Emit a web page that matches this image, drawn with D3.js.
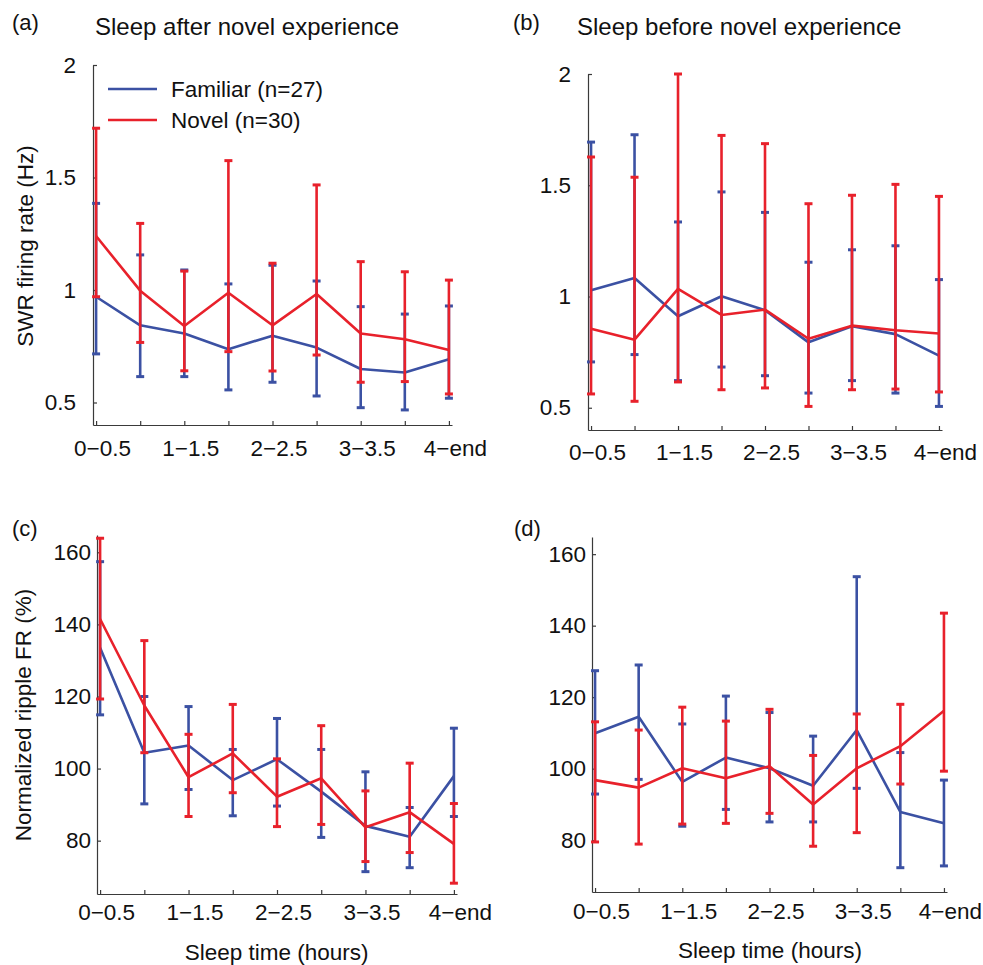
<!DOCTYPE html>
<html>
<head>
<meta charset="utf-8">
<script src="https://cdn.jsdelivr.net/npm/d3@7"></script>
<style>
  html, body { margin: 0; padding: 0; background: #fff; }
  svg { display: block; font-family: "Liberation Sans", Arial, Helvetica, sans-serif; }
</style>
</head>
<body>
<svg id="chart" width="983" height="965"></svg>
<script>
// ---------------- DATA ----------------
const categories = ["0–0.5", "0.5–1", "1–1.5", "1.5–2", "2–2.5", "2.5–3", "3–3.5", "3.5–4", "4–end"];
const xTickLabels = ["0\u22120.5", "", "1\u22121.5", "", "2\u22122.5", "", "3\u22123.5", "", "4\u2212end"];
const seriesNames = ["Familiar (n=27)", "Novel (n=30)"];

const yTicksRate = [0.5, 1, 1.5, 2];
const yTicksNorm = [80, 100, 120, 140, 160];

// (a) Sleep after novel experience: SWR firing rate (Hz)
const aFamMean  = [0.970, 0.843, 0.807, 0.737, 0.797, 0.744, 0.649, 0.633, 0.692];
const aFamUpper = [1.385, 1.156, 1.089, 1.027, 1.110, 1.040, 0.926, 0.893, 0.929];
const aFamLower = [0.716, 0.615, 0.615, 0.556, 0.590, 0.529, 0.477, 0.467, 0.519];
const aNovMean  = [1.240, 0.997, 0.840, 0.988, 0.843, 0.982, 0.807, 0.781, 0.733];
const aNovUpper = [1.719, 1.296, 1.084, 1.575, 1.119, 1.467, 1.126, 1.081, 1.044];
const aNovLower = [0.970, 0.767, 0.641, 0.726, 0.640, 0.711, 0.590, 0.593, 0.538];

// (b) Sleep before novel experience: SWR firing rate (Hz)
const bFamMean  = [1.028, 1.083, 0.911, 1.001, 0.938, 0.794, 0.866, 0.831, 0.734];
const bFamUpper = [1.694, 1.727, 1.335, 1.470, 1.378, 1.154, 1.210, 1.228, 1.076];
const bFamLower = [0.706, 0.739, 0.622, 0.683, 0.644, 0.566, 0.622, 0.566, 0.506];
const bNovMean  = [0.855, 0.806, 1.034, 0.917, 0.941, 0.810, 0.869, 0.848, 0.834];
const bNovUpper = [1.627, 1.536, 2.000, 1.724, 1.687, 1.417, 1.455, 1.504, 1.450];
const bNovLower = [0.562, 0.529, 0.616, 0.581, 0.589, 0.506, 0.581, 0.584, 0.571];

// (c) Sleep after: normalized ripple FR (%)
const cFamMean  = [133.5, 104.4, 106.4, 96.8, 102.6, 93.6, 84.1, 81.1, 97.9];
const cFamUpper = [157.4, 120.0, 117.2, 105.3, 113.9, 105.3, 99.1, 89.2, 111.2];
const cFamLower = [114.9, 90.2, 94.2, 86.9, 89.6, 80.9, 71.4, 72.5, 86.7];
const cNovMean  = [141.5, 117.5, 97.6, 104.2, 92.2, 97.3, 83.7, 87.9, 79.1];
const cNovUpper = [163.9, 135.5, 109.5, 117.8, 102.7, 111.9, 93.8, 101.5, 90.3];
const cNovLower = [119.3, 104.4, 86.7, 93.3, 83.9, 84.5, 74.2, 76.7, 68.2];

// (d) Sleep before: normalized ripple FR (%)
const dFamMean  = [109.9, 114.5, 96.3, 103.1, 100.1, 95.2, 110.8, 87.9, 84.7];
const dFamUpper = [127.4, 129.0, 112.5, 120.3, 115.7, 109.1, 153.7, 104.5, 96.8];
const dFamLower = [92.9, 97.0, 83.9, 88.6, 85.1, 85.1, 94.5, 72.3, 72.8];
const dNovMean  = [96.8, 94.7, 100.1, 97.3, 100.7, 90.0, 100.1, 106.3, 116.2];
const dNovUpper = [113.1, 110.8, 117.2, 113.3, 116.6, 103.7, 115.3, 118.0, 143.5];
const dNovLower = [79.5, 78.9, 84.5, 84.7, 87.5, 78.3, 82.1, 95.7, 99.3];

// ---------------- STYLE / LAYOUT ----------------
const BLUE = "#3b51a3";
const RED = "#e8212b";
const AXIS = "#3a3a3a";
const FS = 22.5;

const panels = [
  { id: "a", x0: 93, x1: 452, yTop: 65, yBot: 425, yDom: [0.4, 2], yTicks: yTicksRate, fmt: d3.format("~g"),
    pad: 17, xLabOff: 31, fam: [aFamMean, aFamUpper, aFamLower], nov: [aNovMean, aNovUpper, aNovLower] },
  { id: "b", x0: 588, x1: 942, yTop: 74, yBot: 430, yDom: [0.4, 2], yTicks: yTicksRate, fmt: d3.format("~g"),
    pad: 17, xLabOff: 30, fam: [bFamMean, bFamUpper, bFamLower], nov: [bNovMean, bNovUpper, bNovLower] },
  { id: "c", x0: 97, x1: 457, yTop: 535, yBot: 894, yDom: [65.2, 164.8], yTicks: yTicksNorm, fmt: d3.format("d"),
    pad: 6, xLabOff: 26, fam: [cFamMean, cFamUpper, cFamLower], nov: [cNovMean, cNovUpper, cNovLower] },
  { id: "d", x0: 592, x1: 947, yTop: 537, yBot: 892, yDom: [65.5, 164.8], yTicks: yTicksNorm, fmt: d3.format("d"),
    pad: 6, xLabOff: 26.5, fam: [dFamMean, dFamUpper, dFamLower], nov: [dNovMean, dNovUpper, dNovLower] }
];

const svg = d3.select("#chart");
const idx = d3.range(categories.length);

panels.forEach(p => {
  const x = d3.scaleLinear().domain([0.93, 9.07]).range([p.x0, p.x1]);
  const y = d3.scaleLinear().domain(p.yDom).range([p.yBot, p.yTop]);
  const g = svg.append("g");

  // axes
  const yAxis = d3.axisLeft(y).tickValues(p.yTicks).tickFormat(p.fmt)
    .tickSizeInner(-4).tickSizeOuter(0).tickPadding(p.pad);
  const ya = g.append("g").attr("transform", `translate(${p.x0},0)`).call(yAxis);
  const xAxis = d3.axisBottom(x).tickValues(idx.map(i => i + 1)).tickFormat("")
    .tickSizeInner(-4).tickSizeOuter(0);
  const xa = g.append("g").attr("transform", `translate(0,${p.yBot})`).call(xAxis);
  [ya, xa].forEach(a => {
    a.select(".domain").attr("stroke", AXIS).attr("stroke-width", 1.2);
    a.selectAll(".tick line").attr("stroke", AXIS).attr("stroke-width", 1.2);
    a.selectAll("text").attr("font-size", FS).attr("fill", "#111")
      .attr("font-family", "'Liberation Sans', Arial, Helvetica, sans-serif");
  });

  // x tick labels
  g.selectAll(".xlab").data(idx.filter(i => xTickLabels[i] !== "")).join("text")
    .attr("x", i => x(i + 1) + 6.5)
    .attr("y", p.yBot + p.xLabOff)
    .attr("text-anchor", "middle")
    .attr("font-size", FS).attr("fill", "#111")
    .text(i => xTickLabels[i]);

  // series
  const line = d3.line().x((d, i) => x(i + 1)).y(d => y(d));
  [[p.fam, BLUE], [p.nov, RED]].forEach(([s, col]) => {
    const [mean, up, lo] = s;
    const eg = g.append("g");
    eg.selectAll(".bar").data(idx).join("line")
      .attr("x1", i => x(i + 1)).attr("x2", i => x(i + 1))
      .attr("y1", i => y(up[i])).attr("y2", i => y(lo[i]))
      .attr("stroke", col).attr("stroke-width", 2.6);
    eg.selectAll(".capU").data(idx).join("line")
      .attr("x1", i => x(i + 1) - 4).attr("x2", i => x(i + 1) + 4)
      .attr("y1", i => y(up[i])).attr("y2", i => y(up[i]))
      .attr("stroke", col).attr("stroke-width", 3);
    eg.selectAll(".capL").data(idx).join("line")
      .attr("x1", i => x(i + 1) - 4).attr("x2", i => x(i + 1) + 4)
      .attr("y1", i => y(lo[i])).attr("y2", i => y(lo[i]))
      .attr("stroke", col).attr("stroke-width", 3);
    g.append("path").datum(mean).attr("d", line)
      .attr("fill", "none").attr("stroke", col).attr("stroke-width", 2.6)
      .attr("stroke-linejoin", "round");
  });
});

// panel letters and titles
const letters = [["(a)", 12, 30], ["(b)", 513, 30], ["(c)", 12, 536], ["(d)", 514, 536]];
svg.selectAll(".letter").data(letters).join("text")
  .attr("x", d => d[1]).attr("y", d => d[2])
  .attr("font-size", 22).attr("fill", "#111").text(d => d[0]);

const titles = [["Sleep after novel experience", 95, 35], ["Sleep before novel experience", 577, 35]];
svg.selectAll(".title").data(titles).join("text")
  .attr("x", d => d[1]).attr("y", d => d[2])
  .attr("font-size", 24).attr("fill", "#111").text(d => d[0]);

// y-axis labels
svg.append("text").attr("transform", "translate(33,246) rotate(-90)")
  .attr("text-anchor", "middle").attr("font-size", FS).attr("fill", "#111")
  .text("SWR firing rate (Hz)");
svg.append("text").attr("transform", "translate(30.5,715) rotate(-90)")
  .attr("text-anchor", "middle").attr("font-size", FS).attr("fill", "#111")
  .text("Normalized ripple FR (%)");

// x-axis labels
[[276.7, 960], [770, 958]].forEach(([cx, cy]) => {
  svg.append("text").attr("x", cx).attr("y", cy).attr("text-anchor", "middle")
    .attr("font-size", FS).attr("fill", "#111").text("Sleep time (hours)");
});

// legend (panel a)
const leg = svg.append("g");
[[seriesNames[0], BLUE, 89], [seriesNames[1], RED, 120]].forEach(([name, col, ly]) => {
  leg.append("line").attr("x1", 108).attr("x2", 157).attr("y1", ly).attr("y2", ly)
    .attr("stroke", col).attr("stroke-width", 2.6);
  leg.append("text").attr("x", 171).attr("y", ly).attr("dy", "0.35em")
    .attr("font-size", FS).attr("fill", "#111").text(name);
});
</script>
</body>
</html>
